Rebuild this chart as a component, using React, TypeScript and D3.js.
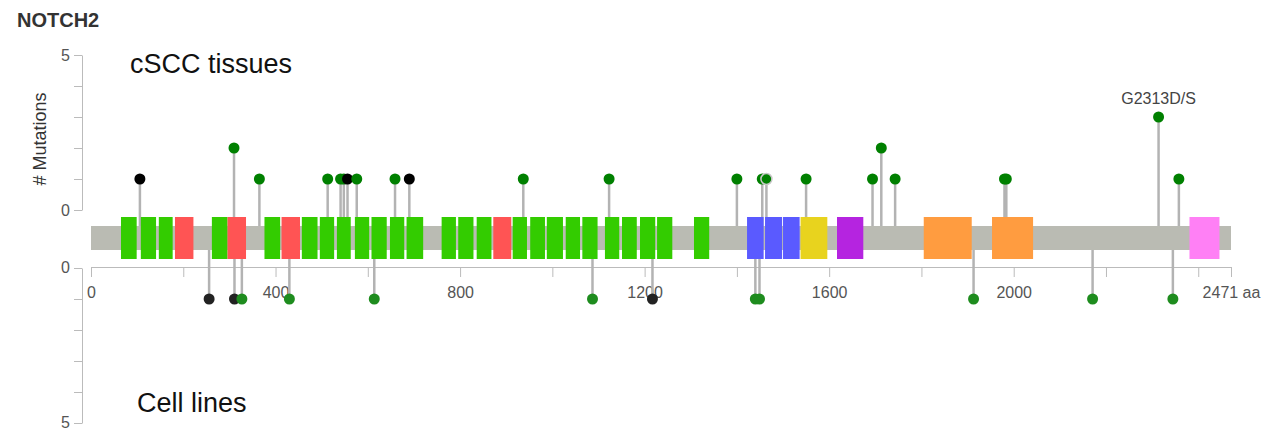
import React, { useRef, useEffect } from "react";
import * as d3 from "d3";

// protein domains (aa)
const domainStart = [65, 108, 147, 182, 262, 296, 376, 413, 457, 496, 533, 572, 608, 648, 684, 760, 796, 836, 872, 914, 952, 988, 1029, 1065, 1114, 1151, 1190, 1227, 1307, 1422, 1461, 1500, 1538, 1617, 1805, 1953, 2381];
const domainEnd = [99, 141, 177, 222, 296, 336, 410, 453, 491, 527, 563, 603, 641, 679, 720, 791, 829, 868, 911, 945, 984, 1023, 1060, 1098, 1145, 1183, 1223, 1260, 1340, 1458, 1498, 1536, 1596, 1674, 1909, 2042, 2446];
const domainType = ["EGF", "EGF", "EGF", "EGF_CA", "EGF", "EGF_CA", "EGF", "EGF_CA", "EGF", "EGF", "EGF", "EGF", "EGF", "EGF", "EGF", "EGF", "EGF", "EGF", "EGF_CA", "EGF", "EGF", "EGF", "EGF", "EGF", "EGF", "EGF", "EGF", "EGF", "EGF", "Notch", "Notch", "Notch", "NOD", "NODP", "Ank", "Ank", "DUF"];
const domainColors = {
  EGF: "#33cc00",
  EGF_CA: "#ff5454",
  Notch: "#5a5aff",
  NOD: "#e8d31e",
  NODP: "#b524e0",
  Ank: "#ff9c40",
  DUF: "#ff80f5",
};

// cSCC tissues
const tissuePos = [106, 310, 365, 513, 541, 548, 556, 576, 659, 690, 937, 1123, 1400, 1455, 1464, 1550, 1694, 1713, 1743, 1980, 1984, 2314, 2358];
const tissueCount = [1, 2, 1, 1, 1, 1, 1, 1, 1, 1, 1, 1, 1, 1, 1, 1, 1, 2, 1, 1, 1, 3, 1];
const tissueType = ["trunc", "mis", "mis", "mis", "mis", "mis", "trunc", "mis", "mis", "trunc", "mis", "mis", "mis", "mis", "mis", "mis", "mis", "mis", "mis", "mis", "mis", "mis", "mis"];
const tissueLabel = { 2314: "G2313D/S" };

// cell lines
const cellPos = [256, 311, 327, 430, 614, 1087, 1217, 1440, 1449, 1913, 2171, 2345];
const cellCount = [1, 1, 1, 1, 1, 1, 1, 1, 1, 1, 1, 1];
const cellType = ["trunc", "trunc", "mis", "mis", "mis", "mis", "trunc", "mis", "mis", "mis", "mis", "mis"];

const proteinLength = 2471;
const xTicks = [0, 200, 400, 600, 800, 1000, 1200, 1400, 1600, 1800, 2000, 2200, 2400, 2471];
const xLabels = [0, 400, 800, 1200, 1600, 2000];

const App = () => {
  const ref = useRef(null);

  useEffect(() => {
    const width = 1264;
    const height = 429;
    const font = "'Liberation Sans', Arial, sans-serif";

    const x = d3.scaleLinear().domain([0, proteinLength]).range([91, 1231]);
    const yTop = d3.scaleLinear().domain([0, 5]).range([210, 55]);
    const yBot = d3.scaleLinear().domain([0, 5]).range([268, 423]);

    const barMid = 238;

    d3.select(ref.current).selectAll("*").remove();

    const svg = d3
      .select(ref.current)
      .append("svg")
      .attr("width", width)
      .attr("height", height)
      .style("position", "absolute")
      .style("left", 0)
      .style("top", 0)
      .style("font-family", font);

    svg.append("text")
      .attr("x", 17)
      .attr("y", 27)
      .attr("font-size", 20)
      .attr("font-weight", "bold")
      .attr("fill", "#333")
      .text("NOTCH2");

    // y axes
    const styleAxis = (g) => {
      g.selectAll(".domain").attr("stroke", "#bbb");
      g.selectAll(".tick line").attr("stroke", "#bbb");
      g.selectAll(".tick text").attr("fill", "#555").attr("font-size", 16).attr("font-family", font);
    };
    const yFmt = (d) => (d === 0 || d === 5 ? d : "");
    svg.append("g")
      .attr("transform", "translate(82,0)")
      .call(d3.axisLeft(yTop).ticks(5).tickSize(8).tickSizeOuter(0).tickPadding(4).tickFormat(yFmt))
      .call(styleAxis);
    svg.append("g")
      .attr("transform", "translate(82,0)")
      .call(d3.axisLeft(yBot).ticks(5).tickSize(8).tickSizeOuter(0).tickPadding(4).tickFormat(yFmt))
      .call(styleAxis)
      .call((g) => g.selectAll(".tick text").attr("dy", "0.28em"));

    svg.append("text")
      .attr("transform", "translate(46,139) rotate(-90)")
      .attr("text-anchor", "middle")
      .attr("font-size", 18)
      .attr("fill", "#333")
      .text("# Mutations");

    // x axis
    svg.append("g")
      .attr("transform", "translate(0,267)")
      .call(
        d3.axisBottom(x)
          .tickValues(xTicks)
          .tickSize(10)
          .tickSizeOuter(0)
          .tickPadding(10)
          .tickFormat((d) => (d === proteinLength ? `${d} aa` : xLabels.includes(d) ? d : ""))
      )
      .call(styleAxis);

    // stems
    const stems = svg.append("g").attr("stroke", "#b3b3b3").attr("stroke-width", 2.5);
    tissuePos.forEach((p, i) => {
      stems.append("line").attr("x1", x(p)).attr("x2", x(p)).attr("y1", barMid).attr("y2", yTop(tissueCount[i]));
    });
    cellPos.forEach((p, i) => {
      stems.append("line").attr("x1", x(p)).attr("x2", x(p)).attr("y1", barMid).attr("y2", yBot(cellCount[i]));
    });

    // protein bar + domains
    svg.append("rect")
      .attr("x", x(0))
      .attr("y", 226)
      .attr("width", x(proteinLength) - x(0))
      .attr("height", 24)
      .attr("fill", "#babbb3");

    domainStart.forEach((s, i) => {
      svg.append("rect")
        .attr("x", x(s))
        .attr("y", 217)
        .attr("width", x(domainEnd[i]) - x(s))
        .attr("height", 42)
        .attr("fill", domainColors[domainType[i]]);
    });

    // dots
    tissuePos.forEach((p, i) => {
      svg.append("circle")
        .attr("cx", x(p))
        .attr("cy", yTop(tissueCount[i]))
        .attr("r", 5.5)
        .attr("fill", tissueType[i] === "trunc" ? "#000" : "#008000")
        .attr("stroke", p === 1464 ? "#c8c8c8" : "none")
        .attr("stroke-width", 1.5);
      if (tissueLabel[p]) {
        svg.append("text")
          .attr("x", x(p))
          .attr("y", yTop(tissueCount[i]) - 13)
          .attr("text-anchor", "middle")
          .attr("font-size", 16)
          .attr("fill", "#444")
          .text(tissueLabel[p]);
      }
    });
    cellPos.forEach((p, i) => {
      svg.append("circle")
        .attr("cx", x(p))
        .attr("cy", yBot(cellCount[i]))
        .attr("r", 5.5)
        .attr("fill", cellType[i] === "trunc" ? "#222" : "#1e8c1e");
    });

    svg.append("text")
      .attr("x", 130)
      .attr("y", 73)
      .attr("font-size", 27)
      .attr("fill", "#111")
      .text("cSCC tissues");

    svg.append("text")
      .attr("x", 137)
      .attr("y", 412)
      .attr("font-size", 27)
      .attr("fill", "#111")
      .text("Cell lines");
  }, []);

  return <div ref={ref}></div>;
};

export default App;
